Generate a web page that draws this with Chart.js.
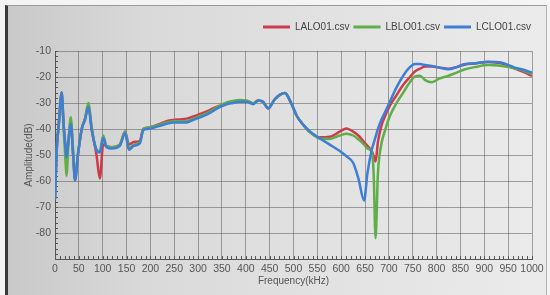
<!DOCTYPE html>
<html>
<head>
<meta charset="utf-8">
<script src="https://cdn.jsdelivr.net/npm/chart.js@4.4.1/dist/chart.umd.min.js"></script>
<style>
  html, body { margin: 0; padding: 0; background: #f4f4f4; }
  #frame {
    position: absolute; left: 5px; top: 5px; width: 538px; height: 290px;
    border-left: 3px solid #3a3a3a; border-top: 1px solid #9a9a9a; border-right: 1px solid #b0b0b0;
    background: linear-gradient(90deg, #c9c9c9 0%, #d9d9d9 25%, #e2e2e2 60%, #ebebeb 100%);
  }
  #wrap { position: absolute; left: 0; top: 0; width: 550px; height: 295px; }
</style>
</head>
<body>
<div id="frame"></div>
<div id="wrap"><canvas id="fft-chart" width="550" height="295"></canvas></div>
<script>
// frequency points (kHz) and amplitudes (dB)
const freq = [0, 3, 8, 14, 18, 22, 24, 28, 33, 38,
    42, 48, 56, 63, 70, 77, 87, 94, 101, 108,
    119, 136, 147, 155, 165, 178, 185, 195, 206, 220,
    234, 250, 262, 276, 290, 304, 318, 332, 346, 360,
    373, 387, 402, 409, 415, 426, 436, 447, 461, 482,
    495, 507, 521, 535, 556, 576, 597, 611, 625, 636,
    648, 655, 664, 668, 672, 677, 684, 692, 702, 716,
    730, 744, 755, 765, 776, 790, 807, 824, 842, 860,
    880, 908, 937, 964, 982, 1000];

const lalo = [-67, -50, -38, -26, -38, -47, -51, -45, -37, -50,
    -59.5, -50, -40, -36, -31, -40, -50, -59, -46, -46.5,
    -47, -46, -41, -46, -45, -44.5, -40, -39.5, -39, -38,
    -37, -36.5, -36.3, -36, -35.2, -34.2, -33.2, -32, -31, -30,
    -29.5, -29, -29.3, -29.8, -30.2, -29, -29.5, -32, -28.5, -26.2,
    -30, -35, -38.5, -41.3, -43.2, -43, -41, -39.8, -41, -42.5,
    -45, -46.5, -48.5, -50.5, -52.5, -45, -39, -35, -31, -27,
    -23, -20, -17.8, -16.8, -16, -16, -16.4, -16.8, -16.2, -15.2,
    -14.8, -14.2, -14.8, -16.8, -18, -19.6];

const lblo = [-67, -50, -38, -27, -40, -52, -58, -46, -35.5, -48,
    -59, -50, -40, -36, -30, -39.5, -48, -48.5, -42.5, -46.5,
    -47, -46, -41, -47.5, -46, -45, -40, -39.5, -39, -38.3,
    -37.5, -37, -37, -37, -36, -35, -34, -32.5, -31, -29.8,
    -29.2, -28.8, -29, -29.6, -30.2, -29, -29.5, -32, -28.5, -26.2,
    -30, -35, -38.5, -41.3, -43.7, -43.8, -42.5, -41.8, -42.5, -44,
    -46, -47.5, -49, -57, -82, -57, -46, -40.5, -35, -30,
    -26, -22, -19.8, -19.5, -21.2, -22, -20.5, -19.6, -18.3, -17,
    -16.2, -15.4, -15.8, -16.6, -17.5, -18.9];

const lclo = [-67, -50, -38, -26, -38, -47, -51, -45, -38, -50,
    -59.8, -50, -40, -36.5, -31.5, -40.5, -48, -49, -43.5, -47,
    -47.5, -46.5, -41.5, -48, -46.5, -45.5, -40.5, -40, -39.5, -38.8,
    -38, -37.5, -37.5, -37.5, -36.5, -35.5, -34.5, -33, -31.5, -30.5,
    -30, -29.5, -29.5, -30, -30.5, -29, -29.5, -32, -28.5, -26.2,
    -30, -35, -38.5, -41, -43.7, -46, -48.5, -50.5, -53, -59,
    -67.5, -57, -48, -45.5, -43, -40, -36.5, -33.5, -29.5, -24,
    -19.5, -16.2, -15, -15, -15.4, -15.8, -16.4, -17, -16.2, -15,
    -14.8, -14.1, -14.5, -16.4, -17.2, -18.3];

const seriesNames = ['LALO01.csv', 'LBLO01.csv', 'LCLO01.csv'];
const seriesColors = ['#cf3b4b', '#5fae48', '#3d7fd6'];
const seriesValues = [lalo, lblo, lclo];

const toPoints = vals => vals.map((v, i) => ({ x: freq[i], y: v }));

// small minor tick marks along the axes
const minorTicks = {
    id: 'minorTicks',
    beforeDatasetsDraw(chart) {
        const { ctx, chartArea, scales } = chart;
        ctx.save();
        ctx.strokeStyle = '#555';
        ctx.lineWidth = 1;
        ctx.beginPath();
        for (let v = -90; v <= -10; v += 2) {
            const y = Math.round(scales.y.getPixelForValue(v)) + 0.5;
            ctx.moveTo(chartArea.left, y);
            ctx.lineTo(chartArea.left + 3, y);
        }
        for (let f = 0; f <= 1000; f += 10) {
            const x = Math.round(scales.x.getPixelForValue(f)) + 0.5;
            ctx.moveTo(x, chartArea.bottom);
            ctx.lineTo(x, chartArea.bottom - 3);
        }
        ctx.stroke();
        ctx.restore();
    }
};

// give the legend a bit more room under it and push it right
const legendSpace = {
    id: 'legendSpace',
    afterInit(chart) {
        const fit = chart.legend.fit;
        chart.legend.fit = function () {
            fit.call(this);
            this.height += 9;
        };
    },
    afterLayout(chart) {
        chart.legend.left += 3;
        chart.legend.right += 3;
    }
};

const ctx = document.getElementById('fft-chart').getContext('2d');
const fftChart = new Chart(ctx, {
    type: 'line',
    data: {
        datasets: seriesNames.map((name, i) => ({
            label: name,
            data: toPoints(seriesValues[i]),
            borderColor: seriesColors[i],
            backgroundColor: seriesColors[i],
            borderWidth: 2.5,
            pointRadius: 0,
            cubicInterpolationMode: 'monotone',
            order: 3 - i
        }))
    },
    options: {
        responsive: false,
        animation: false,
        layout: { padding: { left: 8, right: 18, top: 18, bottom: 0 } },
        plugins: {
            legend: {
                display: true,
                position: 'top',
                align: 'end',
                labels: {
                    boxWidth: 27,
                    boxHeight: 3,
                    padding: 4,
                    color: '#444',
                    font: { family: 'Liberation Sans, Arial, sans-serif', size: 10 },
                    sort: (a, b) => a.datasetIndex - b.datasetIndex,
                    generateLabels(chart) {
                        return Chart.defaults.plugins.legend.labels.generateLabels(chart)
                            .map(item => ({ ...item, lineWidth: 0 }));
                    }
                }
            },
            tooltip: { enabled: false }
        },
        scales: {
            x: {
                type: 'linear',
                min: 0,
                max: 1000,
                afterFit: s => { s.height = 36; },
                ticks: {
                    stepSize: 50,
                    autoSkip: false,
                    maxRotation: 0,
                    padding: 4,
                    color: '#555',
                    font: { family: 'Liberation Sans, Arial, sans-serif', size: 10.5 },
                    callback: v => String(v)
                },
                grid: { color: 'rgba(80,80,80,0.5)', drawTicks: false },
                border: { color: '#555', width: 1 },
                title: {
                    display: true,
                    text: 'Frequency(kHz)',
                    color: '#555',
                    padding: { top: 0, bottom: 8 },
                    font: { family: 'Liberation Sans, Arial, sans-serif', size: 10 }
                }
            },
            y: {
                min: -90,
                max: -10,
                afterFit: s => { s.width = 47; },
                ticks: {
                    stepSize: 10,
                    padding: 4,
                    color: '#555',
                    font: { family: 'Liberation Sans, Arial, sans-serif', size: 10.5 },
                    callback: v => v === -90 ? '' : String(v)
                },
                grid: { color: 'rgba(80,80,80,0.5)', drawTicks: false },
                border: { color: '#555', width: 1 },
                title: {
                    display: true,
                    text: 'Amplitude(dB)',
                    color: '#555',
                    padding: { top: 15, bottom: 0 },
                    font: { family: 'Liberation Sans, Arial, sans-serif', size: 10 }
                }
            }
        }
    },
    plugins: [minorTicks, legendSpace]
});
</script>
</body>
</html>
